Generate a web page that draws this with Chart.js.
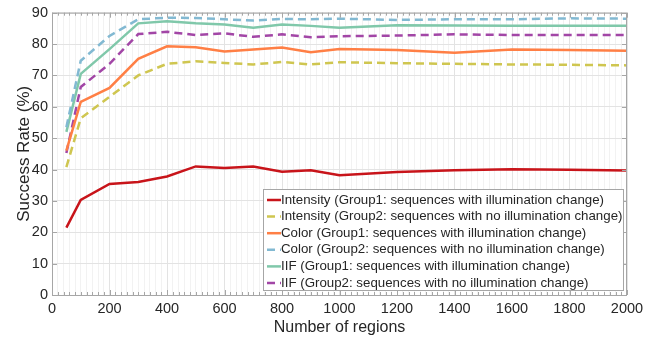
<!DOCTYPE html>
<html>
<head>
<meta charset="utf-8">
<script src="https://cdn.jsdelivr.net/npm/chart.js@4"></script>
<style>
  html, body { margin: 0; padding: 0; background: #fff; }
  #wrap { width: 655px; height: 337px; }
</style>
</head>
<body>
<div id="wrap"><canvas id="mainChart"></canvas></div>
<script>
// data
const regions = [50, 100, 200, 300, 400, 500, 600, 700, 800, 900, 1000, 1200, 1400, 1600, 1800, 2000];
const intensityG1 = [21.5, 30.3, 35.4, 36.0, 37.8, 41.0, 40.5, 41.0, 39.3, 39.8, 38.2, 39.2, 39.8, 40.1, 39.9, 39.7];
const intensityG2 = [40.8, 56.3, 63.2, 70.0, 73.7, 74.5, 74.0, 73.5, 74.3, 73.5, 74.2, 73.9, 73.7, 73.5, 73.4, 73.2];
const colorG1 = [46.0, 61.6, 66.0, 75.3, 79.3, 79.0, 77.6, 78.3, 78.9, 77.4, 78.4, 78.1, 77.2, 78.3, 78.1, 77.9];
const colorG2 = [53.5, 74.7, 82.6, 87.9, 88.4, 88.3, 87.9, 87.5, 88.0, 87.9, 88.1, 87.7, 87.9, 87.9, 88.2, 88.1];
const iifG1 = [52.0, 70.5, 78.4, 86.6, 87.3, 86.6, 86.2, 85.2, 86.2, 85.8, 85.2, 86.0, 85.9, 85.8, 85.8, 85.8];
const iifG2 = [45.3, 66.3, 73.7, 83.2, 83.9, 82.9, 83.4, 82.3, 83.1, 82.2, 82.5, 82.7, 83.1, 82.9, 82.9, 82.9];
const xTicks = [0, 200, 400, 600, 800, 1000, 1200, 1400, 1600, 1800, 2000];
const yTicks = [0, 10, 20, 30, 40, 50, 60, 70, 80, 90];

const FONT = '"Liberation Sans", Arial, sans-serif';
const dash = [8, 5];

const toPts = vals => regions.map((r, i) => ({ x: r, y: vals[i] }));
const mk = (label, vals, color, dashed) => ({
  label: label,
  data: toPts(vals),
  borderColor: color,
  backgroundColor: color,
  borderWidth: 2.5,
  borderDash: dashed ? dash : [],
  pointRadius: 0,
  tension: 0,
  fill: false,
});

// box, inward ticks and the legend inside the axes
const boxPlugin = {
  id: 'boxPlugin',
  afterDraw(chart) {
    const { ctx, chartArea: a, scales } = chart;
    ctx.save();
    ctx.strokeStyle = '#a6a6a6';
    ctx.lineWidth = 1;
    ctx.strokeRect(a.left + 0.5, a.top + 0.5, a.right - a.left - 1, a.bottom - a.top);
    // x ticks, minor every 20
    for (let v = 0; v <= 2000; v += 20) {
      const px = Math.round(scales.x.getPixelForValue(v)) + 0.5;
      const len = v % 200 === 0 ? 5 : 3;
      ctx.beginPath();
      ctx.moveTo(px, a.bottom); ctx.lineTo(px, a.bottom - len);
      ctx.moveTo(px, a.top); ctx.lineTo(px, a.top + len);
      ctx.stroke();
    }
    yTicks.forEach(v => {
      const py = Math.round(scales.y.getPixelForValue(v)) + 0.5;
      ctx.beginPath();
      ctx.moveTo(a.left, py); ctx.lineTo(a.left + 5, py);
      ctx.moveTo(a.right, py); ctx.lineTo(a.right - 5, py);
      ctx.stroke();
    });

    // legend
    const ds = chart.data.datasets;
    const rowH = 16.6;
    const w = 360, h = 101;
    const lx = a.right - 4 - w, ly = a.bottom - 5 - h;
    ctx.fillStyle = '#fff';
    ctx.fillRect(lx, ly, w, h);
    ctx.strokeStyle = '#a6a6a6';
    ctx.strokeRect(lx + 0.5, ly + 0.5, w, h);
    ctx.font = '13.3px ' + FONT;
    ctx.textBaseline = 'middle';
    ds.forEach((d, i) => {
      const cy = ly + 11 + i * rowH;
      ctx.strokeStyle = d.borderColor;
      ctx.lineWidth = 2.5;
      ctx.setLineDash(d.borderDash);
      ctx.beginPath();
      ctx.moveTo(lx + 4, cy); ctx.lineTo(lx + 18, cy);
      ctx.stroke();
      ctx.setLineDash([]);
      ctx.fillStyle = '#262626';
      ctx.fillText(d.label, lx + 18, cy);
    });
    ctx.restore();
  }
};

const ctxMain = document.getElementById('mainChart').getContext('2d');
const mainChart = new Chart(ctxMain, {
  type: 'line',
  data: {
    datasets: [
      mk('Intensity (Group1: sequences with illumination change)', intensityG1, '#c8141a', false),
      mk('Intensity (Group2: sequences with no illumination change)', intensityG2, '#cfc650', true),
      mk('Color (Group1: sequences with illumination change)', colorG1, '#ff7f45', false),
      mk('Color (Group2: sequences with no illumination change)', colorG2, '#82b9d2', true),
      mk('IIF (Group1: sequences with illumination change)', iifG1, '#80c8aa', false),
      mk('IIF (Group2: sequences with no illumination change)', iifG2, '#a246a6', true),
    ]
  },
  options: {
    responsive: true,
    maintainAspectRatio: false,
    animation: false,
    layout: { padding: { top: 10, right: 28, left: 14, bottom: 0 } },
    plugins: {
      legend: { display: false },
      tooltip: { enabled: false },
    },
    scales: {
      x: {
        type: 'linear',
        min: 0, max: 2000,
        afterBuildTicks: s => { s.ticks = []; for (let v = 0; v <= 2000; v += 20) s.ticks.push({ value: v }); },
        afterFit: s => { s.height = 42; },
        ticks: {
          autoSkip: false,
          maxRotation: 0,
          color: '#262626',
          font: { family: FONT, size: 14.5 },
          padding: 5,
          callback: v => (xTicks.includes(v) ? String(v) : ''),
        },
        grid: {
          drawTicks: false,
          color: c => (c.tick && c.tick.value % 200 === 0 ? '#e3e3e3' : '#f2f2f2'),
          lineWidth: 1,
        },
        border: { display: false },
        title: {
          display: true,
          text: 'Number of regions',
          color: '#262626',
          font: { family: FONT, size: 16 },
          padding: { top: 0, bottom: 0 },
        },
      },
      y: {
        min: 0, max: 90,
        afterBuildTicks: s => { s.ticks = yTicks.map(v => ({ value: v })); },
        afterFit: s => { s.width = 38; },
        ticks: {
          color: '#262626',
          font: { family: FONT, size: 14.5 },
          padding: 4,
        },
        grid: { drawTicks: false, color: '#e3e3e3' },
        border: { display: false },
        title: {
          display: true,
          text: 'Success Rate (%)',
          color: '#262626',
          font: { family: FONT, size: 17 },
          padding: { top: 0, bottom: 0 },
        },
      },
    },
  },
  plugins: [boxPlugin],
});
</script>
</body>
</html>
